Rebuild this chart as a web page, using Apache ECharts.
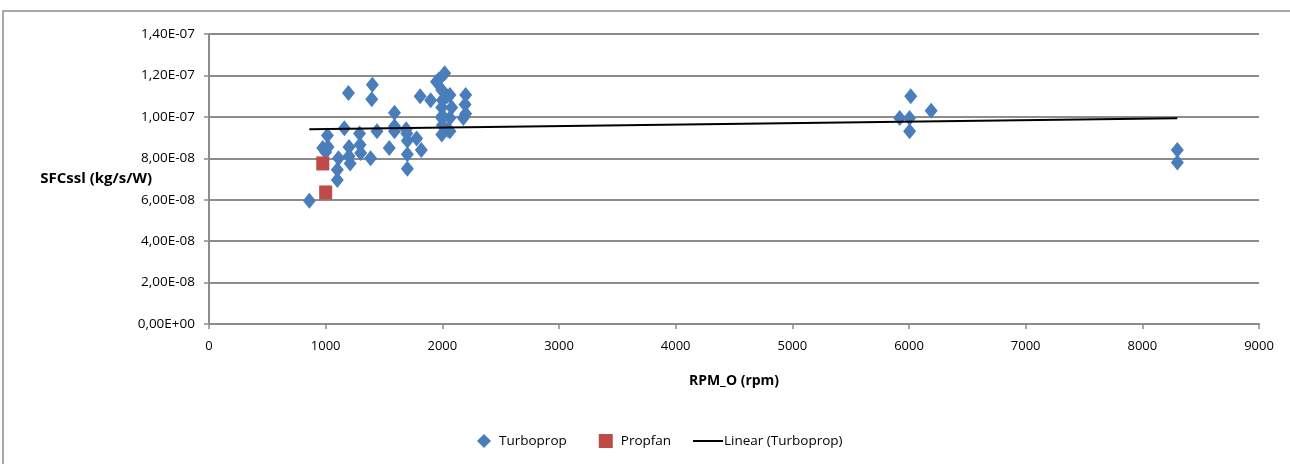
<!DOCTYPE html>
<html>
<head>
<meta charset="utf-8">
<script src="https://cdn.jsdelivr.net/npm/echarts@6/dist/echarts.min.js"></script>
<style>html,body{margin:0;padding:0;background:#fff}#c{width:1290px;height:464px}</style>
</head>
<body>
<div id="c"></div>
<script>
// ---- data ----
var xTicks = [0,1000,2000,3000,4000,5000,6000,7000,8000,9000];
var yTicks = [0,2e-8,4e-8,6e-8,8e-8,1e-7,1.2e-7,1.4e-7];
var turbopropRPM = [860,1100,1100,1110,975,1000,1020,1015,1160,1195,1200,1200,1210,1290,1295,1300,1385,1400,1395,1440,1545,1590,1590,1590,1690,1695,1700,1700,1700,1780,1820,1810,1900,1950,1970,2020,1995,2000,1995,2000,1995,2000,1995,2040,2065,2080,2065,2050,2065,2200,2195,2200,2180,5920,6005,6015,6005,6190,8300,8300];
var turbopropSFC = [5.95e-8,6.95e-8,7.45e-8,8.0e-8,8.5e-8,8.3e-8,8.55e-8,9.1e-8,9.45e-8,11.15e-8,8.55e-8,8.1e-8,7.75e-8,9.2e-8,8.65e-8,8.25e-8,8.0e-8,11.55e-8,10.85e-8,9.3e-8,8.5e-8,10.2e-8,9.55e-8,9.3e-8,9.4e-8,9.2e-8,8.85e-8,8.2e-8,7.5e-8,8.95e-8,8.4e-8,11.0e-8,10.8e-8,11.7e-8,11.8e-8,12.1e-8,11.3e-8,10.8e-8,10.45e-8,10.05e-8,9.95e-8,9.6e-8,9.15e-8,11.0e-8,11.05e-8,10.45e-8,9.95e-8,9.35e-8,9.3e-8,11.05e-8,10.6e-8,10.15e-8,9.95e-8,9.95e-8,9.95e-8,11.0e-8,9.3e-8,10.3e-8,8.4e-8,7.8e-8];
var propfanRPM = [975,1000];
var propfanSFC = [7.75e-8,6.35e-8];
var trendRPM = [860,8300];
var trendSFC = [9.4e-8,9.93e-8];

function zip(a,b){return a.map(function(v,i){return [v,b[i]];});}
function fmtY(v){
  var s = Number(v).toExponential(2);
  var parts = s.split('e');
  var mant = parts[0].replace('.',',');
  var exp = parseInt(parts[1],10);
  var sign = exp<0?'-':'+';
  var e = Math.abs(exp); e = (e<10?'0':'')+e;
  return mant+'E'+sign+e;
}
var FONT = "'Open Sans','Noto Sans',sans-serif";
var chart = echarts.init(document.getElementById('c'), null, {renderer:'canvas'});
chart.setOption({
  animation:false,
  backgroundColor:'#ffffff',
  textStyle:{fontFamily:FONT},
  graphic:[{type:'rect',shape:{x:3,y:11,width:1400,height:600},style:{fill:'none',stroke:'#8c8c8c',lineWidth:1.5},silent:true,z:-1}],
  grid:{left:209,right:31,top:34,bottom:140},
  xAxis:{type:'value',min:0,max:9000,interval:1000,
    name:'RPM_O (rpm)',nameLocation:'middle',nameGap:50,nameMoveOverlap:false,
    nameTextStyle:{fontFamily:FONT,fontSize:14,fontWeight:'bold',color:'#000'},
    axisLine:{show:true,onZero:false,lineStyle:{color:'#8c8c8c',width:2}},
    axisTick:{show:true,inside:false,length:5,lineStyle:{color:'#8c8c8c',width:1.5}},
    axisLabel:{fontFamily:FONT,fontSize:13,color:'#000',margin:16,formatter:function(v){return String(v);}},
    splitLine:{show:false}},
  yAxis:{type:'value',min:0,max:1.4e-7,interval:2e-8,
    name:'SFCssl (kg/s/W)',nameLocation:'middle',nameRotate:0,nameGap:57,nameMoveOverlap:false,
    nameTextStyle:{fontFamily:FONT,fontSize:15,fontWeight:'bold',color:'#000',align:'right'},
    axisLine:{show:true,lineStyle:{color:'#8c8c8c',width:2}},
    axisTick:{show:true,inside:false,length:5,lineStyle:{color:'#8c8c8c',width:1.5}},
    axisLabel:{fontFamily:FONT,fontSize:13.5,color:'#000',margin:14,formatter:fmtY},
    splitLine:{show:true,lineStyle:{color:'#8c8c8c',width:2}}},
  legend:[
    {left:472,top:429,itemGap:32,itemWidth:14,itemHeight:14,
     textStyle:{fontFamily:FONT,fontSize:13.5,color:'#000',padding:[0,0,0,3]},
     data:[{name:'Turboprop',icon:'diamond'},{name:'Propfan',icon:'rect'}]},
    {left:688,top:429,itemWidth:30,itemHeight:2,itemGap:10,
     textStyle:{fontFamily:FONT,fontSize:13.5,color:'#000',padding:[0,0,0,-4]},
     data:[{name:'Linear (Turboprop)',icon:'rect'}]}
  ],
  series:[
    {name:'Turboprop',type:'scatter',symbol:'diamond',symbolSize:[13,16],
     itemStyle:{color:'#4a7ebb',opacity:1},data:zip(turbopropRPM,turbopropSFC),z:3},
    {name:'Propfan',type:'scatter',symbol:'rect',symbolSize:[13,14],
     itemStyle:{color:'#be4b48',opacity:1},data:zip(propfanRPM,propfanSFC),z:4},
    {name:'Linear (Turboprop)',type:'line',symbol:'none',
     lineStyle:{color:'#000',width:2},itemStyle:{color:'#000'},
     data:zip(trendRPM,trendSFC),z:5}
  ]
});
</script>
</body>
</html>
